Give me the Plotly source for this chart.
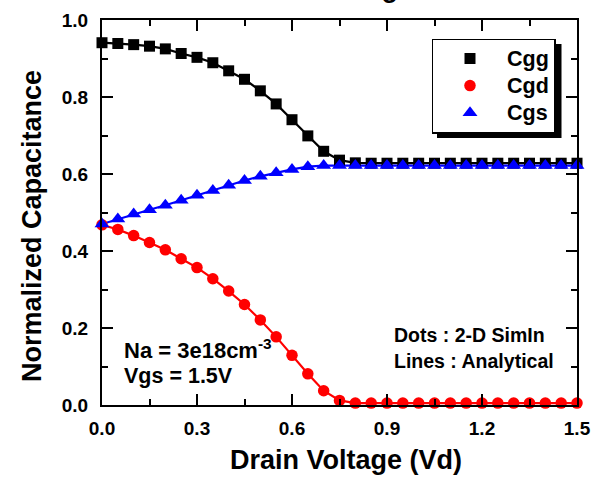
import plotly.graph_objects as go

# Drain voltage (V)
vd = [round(0.05 * i, 2) for i in range(31)]

# Simulated (dots) normalized capacitances
cgg = [0.941, 0.939, 0.936, 0.932, 0.925, 0.913, 0.903, 0.889, 0.868, 0.846,
       0.816, 0.782, 0.741, 0.699, 0.659, 0.636, 0.629, 0.628, 0.628, 0.628,
       0.628, 0.628, 0.628, 0.628, 0.628, 0.628, 0.628, 0.628, 0.628, 0.628, 0.628]
cgd = [0.468, 0.456, 0.440, 0.422, 0.403, 0.380, 0.357, 0.328, 0.296, 0.261,
       0.221, 0.177, 0.129, 0.081, 0.037, 0.012, 0.005, 0.005, 0.005, 0.005,
       0.005, 0.005, 0.005, 0.005, 0.005, 0.005, 0.005, 0.005, 0.005, 0.005, 0.005]
cgs = [0.470, 0.483, 0.496, 0.507, 0.519, 0.532, 0.545, 0.557, 0.571, 0.583,
       0.594, 0.603, 0.612, 0.619, 0.622, 0.622, 0.622, 0.622, 0.622, 0.622,
       0.622, 0.622, 0.622, 0.622, 0.622, 0.622, 0.622, 0.622, 0.622, 0.622, 0.622]

names = ["Cgg", "Cgd", "Cgs"]
colors = ["#000000", "#ff0000", "#0000ff"]
symbols = ["square", "circle", "triangle-up"]
sizes = [11, 11.5, 13]
series = [cgg, cgd, cgs]

FONT = "Liberation Sans, Arial, sans-serif"

fig = go.Figure()
# analytical lines
for s, c in zip(series, colors):
    fig.add_trace(go.Scatter(x=vd, y=s, mode="lines", line=dict(color=c, width=2.2),
                             showlegend=False, cliponaxis=False, hoverinfo="skip"))
# simulated dots
for s, c, n, sym, sz in zip(series, colors, names, symbols, sizes):
    fig.add_trace(go.Scatter(x=vd, y=s, mode="markers",
                             name='<span style="font-size:21.5px">' + n + '</span>',
                             marker=dict(color=c, symbol=sym, size=sz, line=dict(width=0)),
                             cliponaxis=False))

axis_common = dict(
    showline=True, linecolor="black", linewidth=2, mirror="allticks",
    ticks="inside", ticklen=11, tickwidth=2, tickcolor="black",
    showgrid=False, zeroline=False, automargin=False,
    tickfont=dict(family=FONT, size=19, color="black", weight="bold"),
)

fig.update_xaxes(range=[0, 1.5], dtick=0.3, tick0=0, tickformat=".1f",
                 minor=dict(dtick=0.15, ticklen=6, tickwidth=2, tickcolor="black", ticks="inside"),
                 ticklabelstandoff=5,
                 **axis_common)
fig.update_yaxes(range=[0, 1.0], dtick=0.2, tick0=0, tickformat=".1f",
                 minor=dict(dtick=0.1, ticklen=6, tickwidth=2, tickcolor="black", ticks="inside"),
                 ticklabelstandoff=8,
                 **axis_common)

L, R, T, B = 102, 16, 20, 74
W, H = 593, 479
pw, ph = W - L - R, H - T - B


def px(xp):
    return (xp - L) / pw


def py(yp):
    return (H - B - yp) / ph


annos = [
    ("Gate Voltage", 331, 5.5, 27, "center", "bottom", 0),
    ("Drain Voltage (Vd)", 346, 459.5, 27, "center", "middle", 0),
    ("Normalized Capacitance", 32, 226, 27, "center", "middle", -90),
    ("Na = 3e18cm<sup>-3</sup>", 122, 349, 22, "left", "middle", 0),
    ("Vgs = 1.5V", 122, 375.5, 21.5, "left", "middle", 0),
    ("Dots : 2-D SimIn", 392, 335, 19.5, "left", "middle", 0),
    ("Lines : Analytical", 392, 360.5, 19.5, "left", "middle", 0),
]
for txt, x, y, fs, xa, ya, ang in annos:
    fig.add_annotation(text=txt, xref="paper", yref="paper", x=px(x), y=py(y),
                       xanchor=xa, yanchor=ya, showarrow=False, textangle=ang,
                       font=dict(family=FONT, size=fs, color="black", weight="bold"))

# legend shadow
fig.add_shape(type="rect", xref="paper", yref="paper",
              x0=px(437), x1=px(561.5), y0=py(138), y1=py(44),
              fillcolor="black", line=dict(width=0), layer="above")

fig.update_layout(
    width=W, height=H,
    margin=dict(l=L, r=R, t=T, b=B, autoexpand=False),
    paper_bgcolor="white", plot_bgcolor="white",
    showlegend=True,
    legend=dict(x=px(431.5), y=py(38.5), xanchor="left", yanchor="top",
                bgcolor="white", bordercolor="black", borderwidth=1.5,
                itemwidth=64, tracegroupgap=0,
                font=dict(family=FONT, size=18.5, color="black", weight="bold")),
)

fig.write_html("out.html")
